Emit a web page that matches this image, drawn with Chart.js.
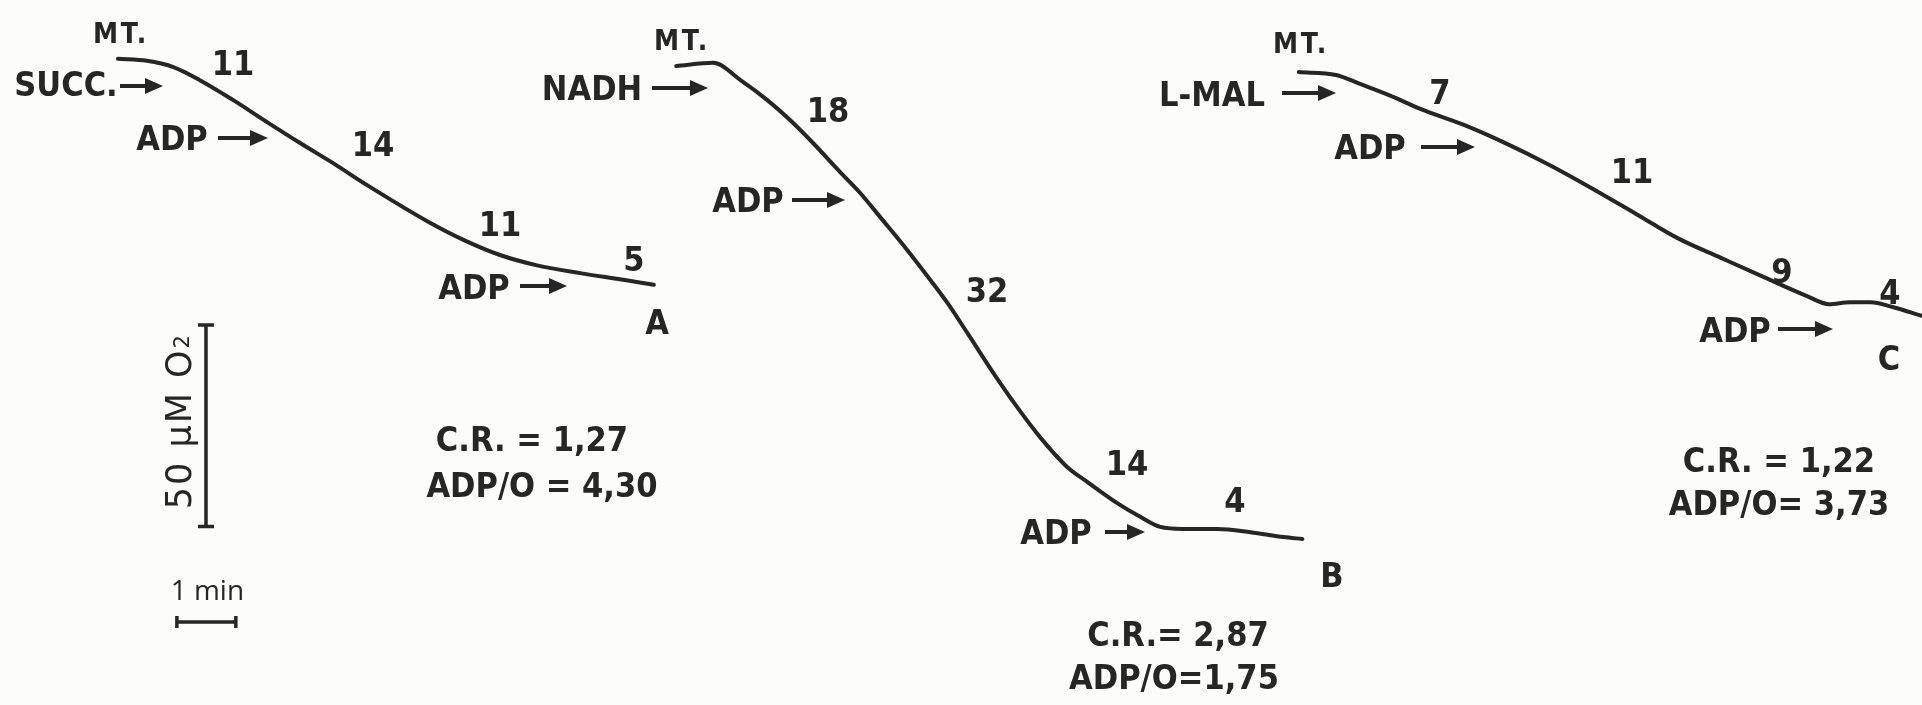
<!DOCTYPE html>
<html>
<head>
<meta charset="utf-8">
<script src="https://cdn.jsdelivr.net/npm/chart.js@4.4.1/dist/chart.umd.min.js"></script>
<style>
  html, body { margin: 0; padding: 0; background: #fcfcfa; overflow: hidden; }
  #wrap { width: 1922px; height: 705px; }
</style>
</head>
<body>
<div id="wrap"><canvas id="traces" width="1922" height="705"></canvas></div>
<script>
// O2 electrode traces: time in min after MT. addition, O2 in uM
const timeA = [0, 0.49, 0.93, 1.39, 1.95, 2.53, 3.09, 3.65, 4.22, 5.27, 5.87, 6.48, 7.09, 7.84, 8.60, 9.09];
const o2A   = [160.4, 159.9, 158.4, 155.1, 150.2, 144.7, 139.5, 134.5, 129.1, 119.9, 115.4, 111.7, 109.2, 107.2, 105.5, 104.3];

const timeB = [0, 0.63, 1.09, 1.54, 1.93, 2.32, 2.78, 3.12, 3.46, 3.92, 4.31, 4.60, 4.94, 5.38, 5.78, 6.17, 6.63, 6.97, 7.48, 7.87, 8.21, 8.60, 9.18, 9.74, 10.30, 10.62];
const o2B   = [158.6, 159.4, 155.1, 150.2, 145.2, 139.5, 132.3, 127.1, 121.1, 112.9, 105.5, 99.8, 92.3, 82.4, 74.0, 66.5, 59.1, 55.4, 50.1, 46.7, 44.2, 43.7, 43.7, 42.9, 41.7, 41.2];

const timeC = [0, 0.63, 1.05, 1.56, 2.07, 2.80, 3.53, 4.26, 4.99, 5.72, 6.45, 7.16, 7.89, 8.62, 8.99, 9.35, 9.70, 10.07, 10.57];
const o2C   = [157.1, 156.4, 154.1, 151.2, 147.9, 144.0, 139.3, 134.0, 128.1, 121.9, 115.7, 111.0, 106.2, 101.5, 99.5, 100.0, 100.0, 98.8, 96.6];

// rates written along each trace, and the ratios under it
const ratesA = ["11", "14", "11", "5"];
const ratesB = ["18", "32", "14", "4"];
const ratesC = ["7", "11", "9", "4"];
const ratiosA = ["C.R. = 1,27", "ADP/O = 4,30"];
const ratiosB = ["C.R.= 2,87", "ADP/O=1,75"];
const ratiosC = ["C.R. = 1,22", "ADP/O= 3,73"];

// scale bars
const scaleO2 = 50;    // uM
const scaleTime = 1;   // min

// layout: where each panel starts on the paper (min)
const panelStart = { A: 2.0, B: 11.47, C: 22.03 };

const INK = "#262626";

function toPoints(times, o2, start) {
  return times.map((t, i) => ({ x: t + start, y: o2[i] }));
}

function traceSet(times, o2, start) {
  return {
    data: toPoints(times, o2, start),
    borderColor: INK,
    borderWidth: 4,
    pointRadius: 0,
    fill: false,
    cubicInterpolationMode: "monotone",
    borderCapStyle: "round",
    borderJoinStyle: "round",
  };
}

// [text, centre x, centre y, small]
const labels = [
  ["MT.", 121, 33, true], ["SUCC.", 66, 84], [ratesA[0], 233, 63], ["ADP", 172, 138],
  [ratesA[1], 373, 144], [ratesA[2], 500, 224], [ratesA[3], 634, 259],
  ["ADP", 474, 287], ["A", 657, 322], [ratiosA[0], 532, 439], [ratiosA[1], 542, 485],

  ["MT.", 682, 40, true], ["NADH", 592, 88], [ratesB[0], 828, 110], ["ADP", 748, 200],
  [ratesB[1], 987, 290], [ratesB[2], 1127, 463], [ratesB[3], 1235, 500],
  ["ADP", 1056, 532], ["B", 1332, 575], [ratiosB[0], 1178, 634], [ratiosB[1], 1174, 677],

  ["MT.", 1301, 43, true], ["L-MAL", 1212, 94], [ratesC[0], 1440, 92], ["ADP", 1370, 147],
  [ratesC[1], 1632, 171], [ratesC[2], 1782, 271], [ratesC[3], 1890, 292],
  ["ADP", 1735, 330], ["C", 1889, 358], [ratiosC[0], 1779, 460], [ratiosC[1], 1779, 503],
];

// [x1, x2, y]
const arrows = [
  [120, 163, 86], [218, 268, 138], [520, 567, 286],
  [652, 708, 88], [792, 845, 200], [1105, 1145, 532],
  [1282, 1336, 93], [1421, 1475, 147], [1778, 1833, 329],
];

function drawArrow(ctx, x1, x2, y) {
  ctx.save();
  ctx.strokeStyle = INK;
  ctx.fillStyle = INK;
  ctx.lineWidth = 4;
  ctx.beginPath();
  ctx.moveTo(x1, y);
  ctx.lineTo(x2 - 14, y);
  ctx.stroke();
  ctx.beginPath();
  ctx.moveTo(x2, y);
  ctx.lineTo(x2 - 18, y - 8);
  ctx.lineTo(x2 - 18, y + 8);
  ctx.closePath();
  ctx.fill();
  ctx.restore();
}

function drawLabel(ctx, text, x, y, small) {
  const size = small ? 28 : 34;
  const cap = 0.729 * size;
  ctx.save();
  ctx.font = "bold " + size + 'px "DejaVu Sans"';
  ctx.letterSpacing = small ? "3px" : "0px";
  ctx.textAlign = "center";
  ctx.textBaseline = "alphabetic";
  ctx.fillStyle = INK;
  ctx.translate(x, y + cap / 2);
  ctx.scale(0.9, 1);
  ctx.fillText(text, 0, 0);
  ctx.restore();
}

const figureText = {
  id: "figureText",
  afterDatasetsDraw(chart) {
    const ctx = chart.ctx;
    const xs = chart.scales.x;
    const ys = chart.scales.y;

    labels.forEach(([t, x, y, small]) => drawLabel(ctx, t, x, y, small));
    arrows.forEach(([x1, x2, y]) => drawArrow(ctx, x1, x2, y));

    // 50 uM O2 bar
    const barX = xs.getPixelForValue(3.494);
    const top = ys.getPixelForValue(94.3);
    const bottom = ys.getPixelForValue(94.3 - scaleO2);
    ctx.save();
    ctx.strokeStyle = INK;
    ctx.lineWidth = 3.5;
    ctx.beginPath();
    ctx.moveTo(barX, top); ctx.lineTo(barX, bottom);
    ctx.moveTo(barX - 8, top); ctx.lineTo(barX + 8, top);
    ctx.moveTo(barX - 8, bottom); ctx.lineTo(barX + 8, bottom);
    ctx.stroke();

    // 1 min bar
    const left = xs.getPixelForValue(3.0);
    const right = xs.getPixelForValue(3.0 + scaleTime);
    const barY = ys.getPixelForValue(20.6);
    ctx.beginPath();
    ctx.moveTo(left, barY); ctx.lineTo(right, barY);
    ctx.moveTo(left, barY - 6); ctx.lineTo(left, barY + 6);
    ctx.moveTo(right, barY - 6); ctx.lineTo(right, barY + 6);
    ctx.stroke();

    ctx.fillStyle = INK;
    ctx.textAlign = "center";
    ctx.textBaseline = "alphabetic";
    ctx.font = '28px "Open Sans"';
    ctx.fillText("1 min", (left + right) / 2 + 1, barY - 22);

    ctx.translate(barX - 15, (top + bottom) / 2 - 4);
    ctx.rotate(-Math.PI / 2);
    ctx.font = '35px "DejaVu Sans"';
    ctx.letterSpacing = "2px";
    ctx.textAlign = "left";
    const main = scaleO2 + " \u03bcM O";
    const w = ctx.measureText(main).width;
    const sw = 14;
    const x0 = -(w + sw) / 2;
    ctx.fillText(main, x0, 0);
    ctx.font = '21px "DejaVu Sans"';
    ctx.fillText("2", x0 + w, -2);
    ctx.restore();
  },
};

new Chart(document.getElementById("traces"), {
  type: "line",
  data: {
    datasets: [
      traceSet(timeA, o2A, panelStart.A),
      traceSet(timeB, o2B, panelStart.B),
      traceSet(timeC, o2C, panelStart.C),
    ],
  },
  options: {
    responsive: false,
    animation: false,
    devicePixelRatio: 1,
    layout: { padding: 0 },
    parsing: false,
    scales: {
      x: { type: "linear", min: 0, max: 32.6, display: false },
      y: { type: "linear", min: 0, max: 175, display: false },
    },
    plugins: {
      legend: { display: false },
      tooltip: { enabled: false },
    },
  },
  plugins: [figureText],
});
</script>
</body>
</html>
